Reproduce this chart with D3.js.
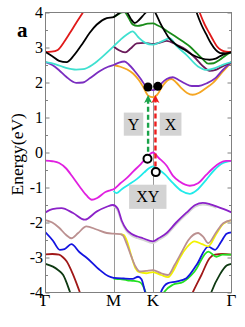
<!DOCTYPE html>
<html>
<head>
<meta charset="utf-8">
<script src="https://cdn.jsdelivr.net/npm/d3@7"></script>
<style>
body{margin:0;background:#fff;}
svg text{font-family:"Liberation Serif","Times New Roman",serif;}
</style>
</head>
<body>
<svg id="chart"></svg>
<script>
// k path: Γ=0, M=1, K=1.577, Γ=2.732
var kPoints = [0, 1, 1.577, 2.732];
var kLabels = ["Γ","M","K","Γ"];
var eTicks = [-4,-3,-2,-1,0,1,2,3,4];
var eTickLabels = ["-4","-3","-2","-1","0","1","2","3","4"];

// conduction side
var redBand = [[0,2.87],[0.09,2.88],[0.18,2.93],[0.27,3.15],[0.36,3.42],[0.45,3.7],[0.54,3.97],[0.7,4.5],[2.1,4.6],[2.21,4.3],[2.27,3.97],[2.34,3.65],[2.41,3.4],[2.46,3.22],[2.52,3.03],[2.58,2.93],[2.65,2.88],[2.732,2.87]];
var blackBand2 = [[2.1,4.6],[2.17,4.3],[2.22,4.0],[2.29,3.65],[2.36,3.38],[2.43,3.12],[2.5,2.93],[2.57,2.84],[2.65,2.84],[2.732,2.87]];
var blackBand = [[0,2.87],[0.1,2.75],[0.2,2.62],[0.31,2.58],[0.42,2.78],[0.55,3.13],[0.65,3.42],[0.75,3.65],[0.9,3.84],[1.0,3.87],[1.06,3.95],[1.11,4.03],[1.15,4.08],[1.2,4.0],[1.26,3.8],[1.31,3.7],[1.38,3.8],[1.45,3.95],[1.5,4.05],[1.577,4.12],[1.62,3.97],[1.68,3.72],[1.75,3.47],[1.8,3.31],[1.92,3.08],[2.07,2.9],[2.17,2.78],[2.27,2.7],[2.41,2.65],[2.5,2.68],[2.6,2.79],[2.732,2.87]];
var greenBand = [[1.0,3.87],[1.06,3.94],[1.12,4.0],[1.16,4.01],[1.22,3.85],[1.28,3.66],[1.35,3.62],[1.42,3.64],[1.5,3.68],[1.577,3.69],[1.65,3.63],[1.72,3.56],[1.8,3.45],[1.92,3.3],[2.02,3.17],[2.12,3.03],[2.22,2.84],[2.31,2.67],[2.39,2.54],[2.47,2.55],[2.56,2.65],[2.65,2.78],[2.732,2.87]];
var cyanBand = [[0,2.58],[0.15,2.52],[0.3,2.42],[0.45,2.37],[0.55,2.38],[0.7,2.52],[0.85,2.76],[1.0,3.03],[1.1,3.22],[1.2,3.38],[1.28,3.46],[1.36,3.3],[1.46,3.14],[1.577,3.08],[1.68,3.15],[1.83,3.26],[1.92,3.05],[2.07,2.79],[2.24,2.46],[2.37,2.36],[2.5,2.42],[2.62,2.52],[2.732,2.58]];
var plumBand = [[1.0,3.03],[1.08,2.92],[1.17,2.86],[1.25,2.97],[1.34,3.12],[1.45,3.13],[1.577,3.1],[1.68,3.14],[1.78,3.19],[1.92,3.08],[2.07,2.93],[2.2,2.7],[2.27,2.55],[2.34,2.42],[2.41,2.33],[2.5,2.36],[2.6,2.46],[2.732,2.58]];
var violetBand = [[0,2.58],[0.1,2.5],[0.2,2.35],[0.3,2.17],[0.45,1.99],[0.55,2.0],[0.65,2.12],[0.8,2.33],[0.92,2.45],[1.0,2.5],[1.08,2.57],[1.16,2.6],[1.23,2.5],[1.3,2.35],[1.4,2.1],[1.47,1.9],[1.53,1.8],[1.577,1.78],[1.63,1.82],[1.7,1.97],[1.78,2.1],[1.87,2.15],[1.95,2.08],[2.05,1.97],[2.15,1.9],[2.25,1.9],[2.37,1.98],[2.5,2.13],[2.6,2.35],[2.732,2.58]];
var orangeBand = [[1.0,2.5],[1.1,2.45],[1.2,2.37],[1.29,2.25],[1.37,2.07],[1.43,1.89],[1.51,1.62],[1.577,1.58],[1.64,1.65],[1.72,1.9],[1.79,2.06],[1.85,2.1],[1.92,2.0],[2.0,1.83],[2.08,1.7],[2.16,1.65],[2.25,1.7],[2.35,1.83],[2.46,1.99],[2.6,2.3],[2.732,2.58]];

// valence side
var magentaBand = [[0,-0.23],[0.1,-0.25],[0.2,-0.3],[0.3,-0.45],[0.4,-0.7],[0.5,-0.97],[0.6,-1.22],[0.68,-1.35],[0.76,-1.3],[0.88,-1.13],[0.95,-1.08],[1.0,-1.05],[1.1,-0.88],[1.2,-0.72],[1.29,-0.54],[1.4,-0.33],[1.48,-0.16],[1.577,0.0],[1.66,-0.15],[1.78,-0.38],[1.87,-0.66],[1.97,-0.83],[2.12,-0.95],[2.24,-0.88],[2.36,-0.64],[2.46,-0.45],[2.56,-0.3],[2.65,-0.24],[2.732,-0.24]];
var cyanLowBand = [[1.0,-1.1],[1.04,-1.16],[1.12,-1.05],[1.22,-0.92],[1.34,-0.76],[1.45,-0.57],[1.52,-0.45],[1.577,-0.4],[1.65,-0.47],[1.75,-0.62],[1.87,-0.87],[2.0,-1.1],[2.12,-1.18],[2.22,-1.08],[2.36,-0.78],[2.48,-0.5],[2.58,-0.33],[2.732,-0.24]];
var violetLowBand = [[0,-1.71],[0.1,-1.62],[0.235,-1.59],[0.405,-1.73],[0.577,-1.92],[0.749,-1.69],[0.9,-1.55],[0.99,-1.5],[1.06,-1.6],[1.12,-1.95],[1.19,-2.2],[1.26,-2.32],[1.35,-2.4],[1.43,-2.45],[1.577,-2.54],[1.66,-2.45],[1.78,-2.3],[1.92,-2.0],[2.07,-1.72],[2.2,-1.5],[2.31,-1.44],[2.42,-1.48],[2.51,-1.54],[2.62,-1.62],[2.732,-1.71]];
var greyBand = [[1.0,-1.53],[1.06,-1.66],[1.12,-2.0],[1.19,-2.25],[1.26,-2.37],[1.35,-2.45],[1.43,-2.5],[1.577,-2.59],[1.66,-2.5],[1.78,-2.35],[1.92,-2.05],[2.07,-1.77],[2.2,-1.55],[2.31,-1.49],[2.42,-1.52],[2.51,-1.58]];
var tanBand = [[0,-1.93],[0.1,-2.0],[0.2,-2.15],[0.3,-2.35],[0.38,-2.45],[0.48,-2.3],[0.6,-2.11],[0.75,-2.2],[0.9,-2.3],[1.0,-2.32],[1.1,-2.33],[1.14,-2.38],[1.2,-2.65],[1.26,-2.97],[1.32,-3.25],[1.385,-3.4],[1.48,-3.38],[1.577,-3.36],[1.7,-3.45],[1.8,-3.5],[1.9,-3.2],[2.0,-2.85],[2.1,-2.5],[2.24,-2.3],[2.32,-2.42],[2.39,-2.59],[2.5,-2.3],[2.61,-2.02],[2.732,-1.93]];
var yellowBand = [[1.1,-2.33],[1.15,-2.36],[1.2,-2.55],[1.26,-2.95],[1.32,-3.3],[1.38,-3.42],[1.48,-3.45],[1.577,-3.42],[1.7,-3.5],[1.8,-3.56],[1.9,-3.3],[1.97,-3.02],[2.08,-2.7],[2.19,-2.54],[2.3,-2.62],[2.39,-2.68],[2.51,-2.32],[2.61,-2.04],[2.732,-1.93]];
var blueBand = [[0,-2.28],[0.11,-2.52],[0.21,-2.78],[0.28,-2.76],[0.38,-2.62],[0.5,-2.85],[0.6,-3.0],[0.8,-3.36],[0.92,-3.53],[1.0,-3.58],[1.15,-3.6],[1.28,-3.61],[1.36,-3.55],[1.41,-3.62],[1.46,-3.97],[1.5,-4.3],[1.66,-4.3],[1.7,-3.97],[1.8,-3.73],[1.92,-3.69],[2.07,-3.59],[2.22,-3.21],[2.39,-2.69],[2.49,-2.78],[2.58,-2.55],[2.66,-2.32],[2.732,-2.28]];
var limeBand = [[1.0,-3.6],[1.1,-3.62],[1.2,-3.65],[1.3,-3.67],[1.38,-3.7],[1.43,-3.8],[1.47,-4.0],[1.5,-4.3],[1.66,-4.3],[1.75,-3.97],[1.87,-3.78],[2.02,-3.7],[2.19,-3.4],[2.39,-2.83],[2.51,-2.98],[2.6,-2.92],[2.732,-2.92]];
var darkRedBand = [[0,-2.91],[0.1,-2.9],[0.2,-2.92],[0.26,-3.0],[0.31,-3.11],[0.405,-3.49],[0.5,-3.97],[0.6,-4.5],[2.05,-4.5],[2.17,-3.97],[2.29,-3.5],[2.41,-3.02],[2.49,-2.92],[2.6,-2.9],[2.732,-2.92]];
var darkGreenBand = [[0,-3.18],[0.11,-3.26],[0.18,-3.35],[0.26,-3.5],[0.357,-3.97],[0.45,-4.5],[2.35,-4.5],[2.44,-3.97],[2.56,-3.49],[2.66,-3.23],[2.732,-3.18]];

// annotations
var arrowK = [1.507, 1.615];
var arrowFrom = [0.02, -0.4];
var arrowTo = [1.64, 1.64];
var filledDots = [[1.505,1.87],[1.65,1.89]];
var openDots = [[1.498,-0.18],[1.62,-0.56]];
var boxLabels = ["Y","X","XY"];
var boxK = [[1.15,1.436],[1.678,1.997],[1.228,1.777]];
var boxE = [[0.48,1.14],[0.48,1.14],[-1.61,-0.92]];

function go(){
  var width = 245, height = 327;
  var margin = {top:12.5, bot:34.5, left:45.5, right:13.5};
  var svg = d3.select("#chart").attr("width",width).attr("height",height);

  var xScale = d3.scaleLinear().domain([0,2.732]).range([margin.left,width-margin.right]);
  var yScale = d3.scaleLinear().domain([-4,4]).range([height-margin.bot,margin.top]);

  svg.append("defs").append("clipPath").attr("id","plotclip")
     .append("rect")
     .attr("x",margin.left).attr("y",margin.top)
     .attr("width",width-margin.left-margin.right)
     .attr("height",height-margin.top-margin.bot);

  // symmetry lines at M and K
  svg.selectAll("line.sym").data(kPoints.slice(1,3)).enter().append("line")
     .attr("class","sym")
     .attr("x1",function(d){return Math.round(xScale(d))+0.5;})
     .attr("x2",function(d){return Math.round(xScale(d))+0.5;})
     .attr("y1",yScale(4)).attr("y2",yScale(-4))
     .attr("stroke","#9a9a9a").attr("stroke-width",1);

  var lineMaker = d3.line()
                    .x(function(d){return xScale(d[0]);})
                    .y(function(d){return yScale(d[1]);})
                    .curve(d3.curveMonotoneX);

  var bands = [
    {pts:greyBand, color:"#d4d4d4"},
    {pts:darkGreenBand, color:"#0e3a12"},
    {pts:darkRedBand, color:"#a01818"},
    {pts:limeBand, color:"#22e022"},
    {pts:blueBand, color:"#1414e0"},
    {pts:yellowBand, color:"#f2f200"},
    {pts:tanBand, color:"#bb9090"},
    {pts:violetLowBand, color:"#8b22c8"},
    {pts:cyanLowBand, color:"#22eaea"},
    {pts:magentaBand, color:"#e020e0"},
    {pts:orangeBand, color:"#f5a623"},
    {pts:violetBand, color:"#7a2dc0"},
    {pts:plumBand, color:"#6a1a5a"},
    {pts:cyanBand, color:"#40e0d0"},
    {pts:greenBand, color:"#1a8c1a"},
    {pts:blackBand2, color:"#000000"},
    {pts:redBand, color:"#e01a1a"},
    {pts:blackBand, color:"#000000"}
  ];

  var plot = svg.append("g").attr("clip-path","url(#plotclip)");
  plot.selectAll("path.band").data(bands).enter().append("path")
      .attr("class","band")
      .attr("d",function(d){return lineMaker(d.pts);})
      .attr("fill","none")
      .attr("stroke",function(d){return d.color;})
      .attr("stroke-width",1.8);

  // frame
  svg.append("rect")
     .attr("x",margin.left).attr("y",margin.top)
     .attr("width",width-margin.left-margin.right)
     .attr("height",height-margin.top-margin.bot)
     .attr("fill","none").attr("stroke","#808080").attr("stroke-width",1);

  // ticks, major inside on both sides plus minor halves
  var yAxisL = d3.axisRight(yScale).tickValues(eTicks).tickSize(4).tickFormat("");
  var yAxisR = d3.axisLeft(yScale).tickValues(eTicks).tickSize(4).tickFormat("");
  var halves = [-3.5,-2.5,-1.5,-0.5,0.5,1.5,2.5,3.5];
  var yMinL = d3.axisRight(yScale).tickValues(halves).tickSize(2.5).tickFormat("");
  var yMinR = d3.axisLeft(yScale).tickValues(halves).tickSize(2.5).tickFormat("");
  [yAxisL,yMinL].forEach(function(ax){
    svg.append("g").attr("transform","translate("+margin.left+",0)").call(ax);
  });
  [yAxisR,yMinR].forEach(function(ax){
    svg.append("g").attr("transform","translate("+(width-margin.right)+",0)").call(ax);
  });
  svg.selectAll(".domain").remove();
  svg.selectAll(".tick line").attr("stroke","#808080");

  // tick labels
  svg.selectAll("text.elab").data(eTicks).enter().append("text")
     .attr("class","elab")
     .attr("x",margin.left-2.5)
     .attr("y",function(d){return yScale(d)+5.5;})
     .attr("text-anchor","end")
     .attr("font-size",16)
     .text(function(d,i){return eTickLabels[i];});

  svg.selectAll("text.klab").data(kPoints).enter().append("text")
     .attr("class","klab")
     .attr("x",function(d){return xScale(d);})
     .attr("y",306)
     .attr("text-anchor","middle")
     .attr("font-size",17)
     .text(function(d,i){return kLabels[i];});

  svg.append("text")
     .attr("transform","translate(23,"+yScale(-0.05)+") rotate(-90)")
     .attr("text-anchor","middle")
     .attr("font-size",17.5)
     .text("Energy(eV)");

  svg.append("text")
     .attr("x",17).attr("y",37)
     .attr("font-size",21).attr("font-weight","bold")
     .text("a");

  // label boxes
  boxLabels.forEach(function(lab,i){
    var x0 = xScale(boxK[i][0]), x1 = xScale(boxK[i][1]);
    var y0 = yScale(boxE[i][1]), y1 = yScale(boxE[i][0]);
    svg.append("rect").attr("x",x0).attr("y",y0)
       .attr("width",x1-x0).attr("height",y1-y0)
       .attr("fill","#d3d3d3");
    svg.append("text").attr("x",(x0+x1)/2).attr("y",(y0+y1)/2+5.5)
       .attr("text-anchor","middle").attr("font-size",16)
       .text(lab);
  });

  // dashed arrows
  var arrowColors = ["#1aa34a","#ee1c1c"];
  arrowK.forEach(function(k,i){
    var ax = xScale(k);
    var yTip = yScale(arrowTo[i]);
    svg.append("line")
       .attr("x1",ax).attr("x2",ax)
       .attr("y1",yScale(arrowFrom[i])).attr("y2",yTip+5)
       .attr("stroke",arrowColors[i]).attr("stroke-width",2.4)
       .attr("stroke-dasharray","5,3");
    svg.append("path")
       .attr("d","M"+ax+","+yTip+" L"+(ax+4)+","+(yTip+8)+" L"+ax+","+(yTip+6)+" L"+(ax-4)+","+(yTip+8)+"Z")
       .attr("fill",arrowColors[i]);
  });

  svg.selectAll("circle.fill").data(filledDots).enter().append("circle")
     .attr("class","fill")
     .attr("cx",function(d){return xScale(d[0]);})
     .attr("cy",function(d){return yScale(d[1]);})
     .attr("r",4.5).attr("fill","#000");

  svg.selectAll("circle.open").data(openDots).enter().append("circle")
     .attr("class","open")
     .attr("cx",function(d){return xScale(d[0]);})
     .attr("cy",function(d){return yScale(d[1]);})
     .attr("r",4).attr("fill","#fff")
     .attr("stroke","#000").attr("stroke-width",2);
}

go();
</script>
</body>
</html>
